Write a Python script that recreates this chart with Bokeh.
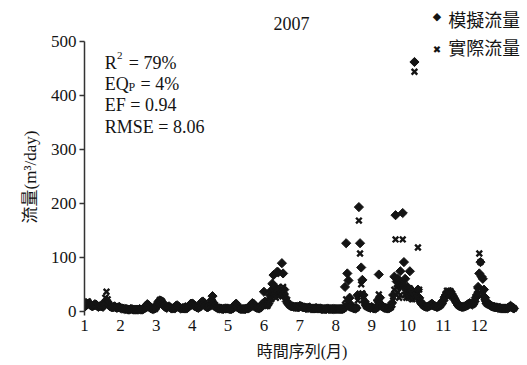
import numpy as np
from bokeh.plotting import figure
from bokeh.models import Label, Title, FixedTicker, Range1d, ColumnDataSource
from bokeh.embed import file_html
from bokeh.resources import INLINE

# ---------------- data (daily flow, m3/day, year 2007) ----------------
months = [1, 2, 3, 4, 5, 6, 7, 8, 9, 10, 11, 12]
days_in_month = [31, 28, 31, 30, 31, 30, 31, 31, 30, 31, 30, 31]
x_ticks = [1, 2, 3, 4, 5, 6, 7, 8, 9, 10, 11, 12]
y_ticks = [0, 100, 200, 300, 400, 500]

sim_jan = [8, 10, 12, 14, 15, 12, 10, 9, 11, 13, 12, 10, 8, 9, 10, 9, 8, 12, 16, 20, 15, 12, 9, 8, 7, 8, 9, 7, 6, 7, 8]
obs_jan = [12, 14, 16, 18, 14, 12, 10, 9, 10, 12, 11, 9, 8, 8, 9, 8, 10, 15, 25, 36, 22, 14, 10, 8, 7, 7, 8, 6, 6, 7, 7]
sim_feb = [6, 5, 5, 4, 4, 4, 3, 3, 4, 4, 3, 3, 3, 3, 3, 4, 3, 3, 4, 6, 10, 13, 11, 7, 5, 4, 4, 5]
obs_feb = [6, 5, 5, 5, 4, 4, 4, 3, 3, 4, 4, 3, 3, 3, 3, 3, 3, 3, 4, 5, 9, 12, 10, 7, 5, 4, 4, 4]
sim_mar = [8, 14, 18, 20, 19, 17, 12, 9, 7, 6, 8, 9, 7, 5, 5, 6, 5, 10, 11, 9, 7, 5, 5, 6, 5, 5, 5, 6, 8, 12, 14]
obs_mar = [7, 12, 16, 21, 20, 18, 13, 10, 8, 7, 8, 8, 7, 6, 5, 5, 5, 9, 10, 8, 7, 6, 5, 5, 5, 6, 9, 10, 8, 10, 12]
sim_apr = [14, 13, 10, 9, 7, 6, 8, 12, 17, 18, 14, 10, 8, 7, 9, 12, 20, 28, 15, 10, 8, 6, 5, 5, 5, 4, 4, 5, 5, 5]
obs_apr = [12, 12, 10, 8, 7, 6, 7, 10, 15, 17, 13, 10, 8, 7, 8, 10, 16, 18, 12, 9, 7, 6, 5, 5, 5, 4, 4, 4, 5, 5]
sim_may = [5, 4, 4, 4, 5, 8, 12, 14, 10, 6, 5, 4, 4, 4, 4, 4, 5, 5, 6, 8, 12, 15, 14, 10, 7, 6, 6, 5, 8, 12, 14]
obs_may = [5, 5, 4, 4, 5, 7, 11, 12, 9, 6, 5, 4, 4, 4, 4, 4, 4, 5, 6, 7, 10, 13, 12, 9, 7, 6, 5, 5, 7, 10, 12]
sim_jun = [36, 18, 14, 12, 20, 30, 38, 51, 67, 45, 30, 73, 72, 40, 30, 89, 70, 40, 25, 18, 14, 12, 10, 9, 9, 8, 8, 8, 8, 7]
obs_jun = [15, 12, 10, 10, 14, 18, 22, 28, 35, 30, 25, 40, 45, 38, 30, 35, 45, 38, 28, 20, 15, 12, 10, 9, 9, 8, 8, 8, 8, 7]
sim_jul = [10, 9, 8, 7, 7, 6, 6, 6, 7, 6, 5, 5, 5, 5, 6, 5, 5, 5, 5, 4, 4, 4, 4, 4, 5, 4, 4, 4, 4, 4, 4]
obs_jul = [9, 8, 8, 7, 7, 6, 6, 6, 6, 6, 5, 5, 5, 5, 5, 5, 5, 5, 5, 4, 4, 4, 4, 4, 4, 4, 4, 4, 4, 4, 4]
sim_aug = [4, 4, 4, 4, 4, 4, 4, 5, 45, 126, 70, 57, 25, 12, 8, 6, 5, 5, 6, 30, 193, 126, 81, 58, 30, 18, 12, 9, 8, 7, 6]
obs_aug = [4, 4, 4, 4, 4, 4, 4, 5, 12, 22, 15, 10, 8, 7, 6, 5, 5, 5, 6, 20, 168, 107, 50, 33, 20, 14, 10, 8, 7, 6, 6]
sim_sep = [8, 6, 5, 5, 6, 20, 68, 25, 12, 9, 7, 6, 6, 5, 5, 6, 8, 15, 30, 64, 178, 55, 60, 45, 74, 50, 182, 91, 60, 40]
obs_sep = [7, 6, 5, 5, 6, 12, 31, 20, 10, 8, 7, 6, 6, 5, 5, 6, 7, 12, 20, 40, 133, 50, 35, 25, 30, 45, 133, 51, 30, 25]
sim_oct = [45, 30, 74, 40, 25, 30, 462, 35, 28, 40, 25, 18, 14, 12, 10, 9, 8, 8, 9, 10, 12, 14, 12, 10, 9, 8, 8, 9, 12, 14, 18]
obs_oct = [30, 25, 42, 35, 22, 28, 444, 30, 25, 118, 40, 20, 15, 12, 10, 9, 8, 8, 8, 9, 10, 12, 11, 9, 8, 8, 8, 8, 10, 12, 15]
sim_nov = [20, 26, 30, 35, 33, 30, 36, 32, 28, 24, 20, 16, 12, 10, 9, 8, 8, 8, 9, 10, 12, 14, 15, 14, 12, 14, 18, 25, 30, 45]
obs_nov = [18, 24, 32, 38, 34, 30, 37, 33, 27, 23, 19, 15, 12, 10, 9, 8, 8, 8, 8, 9, 11, 13, 14, 13, 12, 13, 16, 22, 39, 31]
sim_dec = [70, 91, 64, 60, 40, 25, 18, 15, 14, 12, 10, 9, 8, 8, 7, 7, 6, 6, 6, 5, 5, 5, 5, 5, 5, 6, 8, 10, 8, 6, 5]
obs_dec = [107, 91, 39, 31, 25, 18, 15, 13, 12, 11, 10, 9, 8, 7, 7, 6, 6, 6, 5, 5, 5, 5, 5, 5, 5, 6, 8, 9, 8, 6, 5]

sim_months = [sim_jan, sim_feb, sim_mar, sim_apr, sim_may, sim_jun,
              sim_jul, sim_aug, sim_sep, sim_oct, sim_nov, sim_dec]
obs_months = [obs_jan, obs_feb, obs_mar, obs_apr, obs_may, obs_jun,
              obs_jul, obs_aug, obs_sep, obs_oct, obs_nov, obs_dec]

# position of each day on the month axis (month start = integer tick)
xs, sims, obss = [], [], []
for m, nd, s, o in zip(months, days_in_month, sim_months, obs_months):
    for d in range(nd):
        xs.append(m + d / nd)
        sims.append(s[d])
        obss.append(o[d])
src = ColumnDataSource(dict(x=xs, sim=sims, obs=obss))

# ---------------- figure ----------------
SERIF = "Liberation Serif"
MIXED = "'Liberation Serif', 'Noto Sans CJK TC'"
CJK = "Noto Sans CJK TC"
INK = "#141414"

# frame spans the full top so that texts above the axes are not clipped;
# the y axis itself is bounded to the data scale 0..500
FL, FT, FW, FH = 84, 0, 435, 315
p = figure(frame_width=FW, frame_height=FH,
           min_border_left=FL, min_border_top=FT, min_border_right=8, min_border_bottom=50,
           x_range=Range1d(1, 13.12), y_range=Range1d(-8, 576),
           output_backend="svg", toolbar_location=None)
p.xgrid.grid_line_color = None
p.ygrid.grid_line_color = None
p.outline_line_color = None
p.background_fill_color = "white"
p.border_fill_color = "white"

p.scatter("x", "sim", source=src, marker="square", angle=np.pi / 4, size=6.5,
          fill_color=INK, line_color=INK)
p.scatter("x", "obs", source=src, marker="x", size=8, line_width=2.4,
          line_color=INK)

ya = p.yaxis[0]
ya.ticker = FixedTicker(ticks=y_ticks)
ya.bounds = (-8, 500)
ya.major_tick_out = 5
ya.major_tick_in = 0
ya.minor_tick_out = 0
ya.minor_tick_in = 0
ya.axis_line_width = 1.5
ya.axis_line_color = "#333333"
ya.major_tick_line_color = "#333333"
ya.major_tick_line_width = 1.5
ya.major_label_standoff = 3
ya.major_label_text_font = SERIF
ya.major_label_text_font_size = "17px"
ya.major_label_text_color = INK

# y-axis title, placed in the left panel (rotated by Bokeh), starting 92px above the frame bottom
ytitle = Title(text="流量(m³/day)", align="left", offset=92, standoff=15,
               text_font=MIXED, text_font_size="17px", text_font_style="normal",
               text_color=INK)
p.add_layout(ytitle, "left")

xa = p.xaxis[0]
xa.ticker = FixedTicker(ticks=x_ticks)
xa.axis_line_color = None
xa.major_tick_out = 0
xa.major_tick_in = 0
xa.minor_tick_out = 0
xa.minor_tick_in = 0
xa.major_label_standoff = 4
xa.major_label_text_font = SERIF
xa.major_label_text_font_size = "17px"
xa.major_label_text_color = INK
xa.axis_label = "時間序列(月)"
xa.axis_label_text_font = MIXED
xa.axis_label_text_font_size = "16px"
xa.axis_label_text_font_style = "normal"
xa.axis_label_text_color = INK
xa.axis_label_standoff = 9


def add_text(text, page_x, page_y, size, font=SERIF, align="left", baseline="alphabetic"):
    p.add_layout(Label(x=page_x - FL, y=(FT + FH) - page_y, x_units="screen", y_units="screen",
                       text=text, text_font=font, text_font_size=size,
                       text_color=INK, text_align=align, text_baseline=baseline))


# title
add_text("2007", 291, 23.3, "18px", align="center")
# statistics
add_text("R", 104.3, 62.7, "18px")
add_text("2", 116.5, 55, "11px")
add_text("= 79%", 128.3, 62.7, "18px")
add_text("EQ", 104.3, 83.3, "18px")
add_text("P", 128, 86, "12px")
add_text("= 4%", 140, 83.3, "18px")
add_text("EF = 0.94", 104.3, 104.3, "18px")
add_text("RMSE = 8.06", 104.3, 126, "18px")
# legend
add_text("◆", 436.5, 15.7, "11px", font="DejaVu Sans", align="center", baseline="middle")
add_text("模擬流量", 447.7, 18.3, "18px", font=CJK, baseline="middle")
add_text("✖", 436.5, 48.5, "10px", font="DejaVu Sans", align="center", baseline="middle")
add_text("實際流量", 447.7, 46.8, "18px", font=CJK, baseline="middle")

open("out.html", "w").write(file_html(p, INLINE))
